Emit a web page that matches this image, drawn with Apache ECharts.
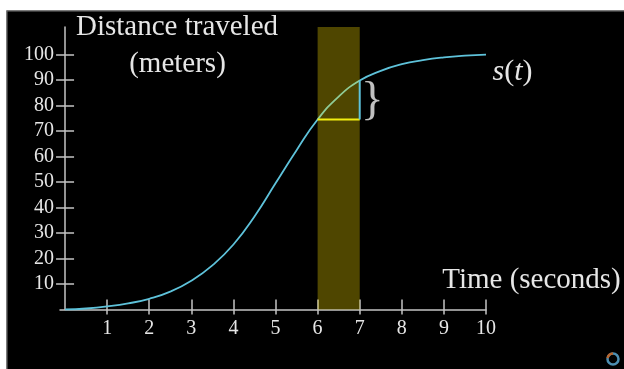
<!DOCTYPE html>
<html>
<head>
<meta charset="utf-8">
<script src="https://cdn.jsdelivr.net/npm/echarts@6/dist/echarts.min.js"></script>
<style>
html,body{margin:0;padding:0;background:#fff;}
#chart{width:624px;height:369px;}
</style>
</head>
<body>
<div id="chart"></div>
<script>
// ---- data ----
const tValues = [0, 0.5, 1, 1.5, 2, 2.5, 3, 3.5, 4, 4.5, 5, 5.5, 6, 6.5, 7, 7.5, 8, 8.5, 9, 9.5, 10];
const sValues = [0, 0.4, 1.2, 2.4, 4.2, 7.0, 11.3, 17.3, 25.5, 36.5, 49.5, 62.5, 74.5, 83.5, 89.8, 93.6, 96.2, 97.8, 98.9, 99.6, 100];
const xTickValues = [1, 2, 3, 4, 5, 6, 7, 8, 9, 10];
const yTickValues = [10, 20, 30, 40, 50, 60, 70, 80, 90, 100];
const intervalStart = 6;
const intervalEnd = 7;
const yAxisLabel = ['Distance traveled', '(meters)'];
const xAxisLabel = 'Time (seconds)';

const sStart = sValues[tValues.indexOf(intervalStart)];
const sEnd = sValues[tValues.indexOf(intervalEnd)];
const X_MIN = -0.12, X_MAX = 10, Y_MIN = 0, Y_MAX = 110.8;

const curveColor = '#5ec2da';
const axisColor = '#c4c4c4';
const textColor = '#e6e6e6';
const serif = '"Liberation Serif", "DejaVu Serif", serif';

const chart = echarts.init(document.getElementById('chart'));

const baseX = {
  type: 'value', min: X_MIN, max: X_MAX, position: 'bottom',
  splitLine: {show: false}
};
const baseY = {
  type: 'value', min: Y_MIN, max: Y_MAX, position: 'left',
  splitLine: {show: false}
};

chart.setOption({
  animation: false,
  backgroundColor: '#000',
  grid: {left: 60, right: 138, top: 27, bottom: 59.5, containLabel: false},
  xAxis: [
    Object.assign({}, baseX, {
      axisLine: {show: true, onZero: true, lineStyle: {color: axisColor, width: 1.5}},
      axisTick: {show: true, customValues: xTickValues, length: 5, lineStyle: {color: axisColor, width: 1.5}},
      axisLabel: {show: true, customValues: xTickValues, color: textColor, fontSize: 20, fontFamily: serif, margin: 9}
    }),
    Object.assign({}, baseX, {
      axisLine: {show: false},
      axisTick: {show: true, inside: true, customValues: xTickValues, length: 10, lineStyle: {color: axisColor, width: 1.5}},
      axisLabel: {show: false}
    })
  ],
  yAxis: [
    Object.assign({}, baseY, {
      axisLine: {show: true, onZero: true, lineStyle: {color: axisColor, width: 1.5}},
      axisTick: {show: true, customValues: yTickValues, length: 9, lineStyle: {color: axisColor, width: 1.5}},
      axisLabel: {show: true, customValues: yTickValues, color: textColor, fontSize: 20, fontFamily: serif, margin: 6}
    }),
    Object.assign({}, baseY, {
      axisLine: {show: false, onZero: true},
      axisTick: {show: true, inside: true, customValues: yTickValues, length: 9, lineStyle: {color: axisColor, width: 1.5}},
      axisLabel: {show: false}
    })
  ],
  series: [
    {
      type: 'line', name: 'curve', z: 2,
      data: tValues.map((t, i) => [t, sValues[i]]),
      smooth: true, symbol: 'none',
      lineStyle: {color: curveColor, width: 1.8}
    },
    {
      type: 'custom', name: 'interval', z: 3,
      data: [[intervalStart, intervalEnd]],
      encode: {x: [0, 1]},
      renderItem: function (params, api) {
        const p0 = api.coord([api.value(0), Y_MAX]);
        const p1 = api.coord([api.value(1), Y_MIN]);
        return {
          type: 'rect',
          shape: {x: p0[0], y: p0[1], width: p1[0] - p0[0], height: p1[1] - p0[1]},
          style: {fill: 'rgba(255,226,0,0.31)'}
        };
      }
    },
    {
      type: 'line', name: 'dt', z: 4, symbol: 'none',
      data: [[intervalStart, sStart], [intervalEnd, sStart]],
      lineStyle: {color: '#f2ee10', width: 2}
    },
    {
      type: 'line', name: 'ds', z: 4, symbol: 'none',
      data: [[intervalEnd, sStart], [intervalEnd, sEnd]],
      lineStyle: {color: curveColor, width: 2}
    },
    {
      type: 'scatter', name: 'brace', z: 5,
      data: [[intervalEnd + 0.3, (sStart + sEnd) / 2]],
      symbolSize: 1, itemStyle: {color: 'rgba(0,0,0,0)'},
      label: {show: true, position: 'inside', offset: [0, 2], formatter: '}', color: '#f0f0f0', fontSize: 47, fontFamily: serif}
    }
  ],
  graphic: [
    {type: 'rect', shape: {x: 0, y: 0, width: 624, height: 10.5}, style: {fill: '#fff'}, z: 100},
    {type: 'rect', shape: {x: 0, y: 0, width: 6.5, height: 369}, style: {fill: '#fff'}, z: 100},
    {type: 'rect', shape: {x: 6.5, y: 10.5, width: 618, height: 1}, style: {fill: '#777'}, z: 100},
    {type: 'rect', shape: {x: 6.5, y: 10.5, width: 1, height: 359}, style: {fill: '#777'}, z: 100},
    {type: 'text', x: 177, y: 27.5, style: {text: yAxisLabel[0], fill: textColor, font: '29px ' + serif, textAlign: 'center', textVerticalAlign: 'middle'}},
    {type: 'text', x: 177.5, y: 64, style: {text: yAxisLabel[1], fill: textColor, font: '29px ' + serif, textAlign: 'center', textVerticalAlign: 'middle'}},
    {type: 'text', x: 531.5, y: 280, style: {text: xAxisLabel, fill: textColor, font: '29px ' + serif, textAlign: 'center', textVerticalAlign: 'middle'}},
    {type: 'text', x: 512.5, y: 72.5, style: {text: '{i|s}(' + '{i|t})', rich: {i: {fontStyle: 'italic', fontSize: 30, fontFamily: serif, fill: textColor}}, fill: textColor, font: '30px ' + serif, textAlign: 'center', textVerticalAlign: 'middle'}},
    {type: 'circle', shape: {cx: 613, cy: 359, r: 5.5}, style: {fill: 'none', stroke: '#4d8fb2', lineWidth: 2.5}},
    {type: 'arc', shape: {cx: 613, cy: 359, r: 5.5, startAngle: Math.PI * 1.05, endAngle: Math.PI * 1.5, clockwise: true}, style: {fill: 'none', stroke: '#b7652f', lineWidth: 2.5}}
  ]
});
</script>
</body>
</html>
